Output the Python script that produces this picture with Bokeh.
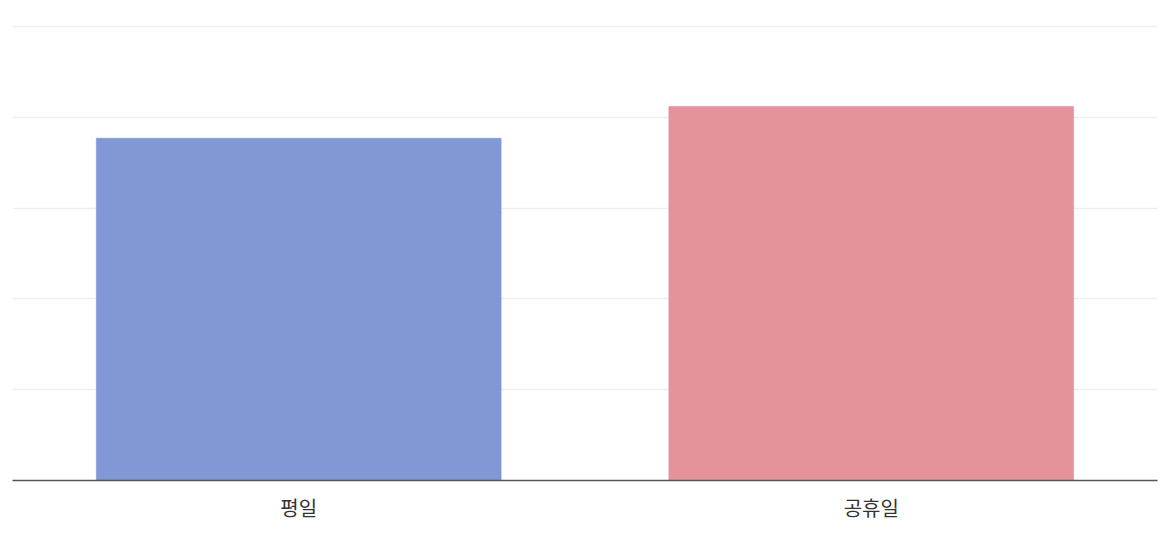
from bokeh.plotting import figure
from bokeh.models import FactorRange, Range1d, FixedTicker
from bokeh.embed import file_html
from bokeh.resources import INLINE

categories = ["평일", "공휴일"]
values = [75.4, 82.4]
colors = ["#8197d6", "#e4929b"]
grid_ticks = [0, 20, 40, 60, 80, 100]

p = figure(
    x_range=FactorRange(*categories, range_padding=0),
    y_range=Range1d(0, 100.9),
    width=1160, height=536,
    output_backend="svg", toolbar_location=None,
    min_border_left=12, min_border_right=3, min_border_top=22, min_border_bottom=56,
)
p.vbar(x=categories, top=values, width=0.707, fill_color=colors,
       line_color=colors, line_alpha=0.6, fill_alpha=1.0)

p.outline_line_color = None
p.background_fill_color = "white"
p.border_fill_color = "white"
p.yaxis.visible = False
p.yaxis.ticker = FixedTicker(ticks=grid_ticks)
p.ygrid.ticker = FixedTicker(ticks=grid_ticks)
p.ygrid.grid_line_color = "#eeeeee"
p.ygrid.grid_line_width = 1.5
p.xgrid.grid_line_color = None

ax = p.xaxis[0]
ax.axis_line_color = "#555555"
ax.axis_line_width = 1.5
ax.major_tick_line_color = None
ax.minor_tick_line_color = None
ax.major_tick_out = 0
ax.major_tick_in = 0
ax.major_label_standoff = 12
ax.major_label_text_font = "Noto Sans CJK KR"
ax.major_label_text_font_size = "20px"
ax.major_label_text_color = "#333333"

open("out.html", "w").write(file_html(p, INLINE))
